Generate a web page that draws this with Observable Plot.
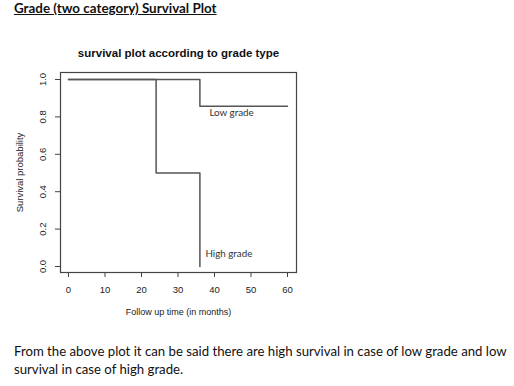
<!DOCTYPE html>
<html>
<head>
<meta charset="utf-8">
<script src="https://cdn.jsdelivr.net/npm/d3@7"></script>
<script src="https://cdn.jsdelivr.net/npm/@observablehq/plot@0.6"></script>
<style>
  html, body { margin: 0; padding: 0; background: #fff; }
  body { width: 514px; height: 386px; position: relative; overflow: hidden; }
  .doc { position: absolute; font-family: Lato, "Open Sans", sans-serif; color: #111; white-space: nowrap; }
  #title { left: 14px; top: 0px; font-weight: bold; font-size: 13.4px; text-decoration: underline; }
  #para { left: 14px; top: 342px; font-size: 13.2px; line-height: 18px; }
  #chart { position: absolute; left: 0; top: 40px; }
</style>
</head>
<body>
<div id="title" class="doc">Grade (two category) Survival Plot</div>
<div id="chart"></div>
<div id="para" class="doc">From the above plot it can be said there are high survival in case of low grade and low<br>survival in case of high grade.</div>
<script>
const lowTime = [0, 36, 60];
const lowSurv = [1, 0.857, 0.857];
const highTime = [0, 24, 36];
const highSurv = [1, 0.5, 0];
const xTicks = [0, 10, 20, 30, 40, 50, 60];
const yTicks = [0, 0.2, 0.4, 0.6, 0.8, 1.0];
const curveLabels = ["Low grade", "High grade"];
const curveLabelX = [38.6, 37.5];
const curveLabelY = [0.82, 0.065];

const low = lowTime.map((t, i) => ({t, s: lowSurv[i]}));
const high = highTime.map((t, i) => ({t, s: highSurv[i]}));
const labels = curveLabels.map((text, i) => ({text, x: curveLabelX[i], y: curveLabelY[i]}));

const rFont = "Liberation Sans, Arial, sans-serif";
const ink = "#222";

const svg = Plot.plot({
  width: 310,
  height: 280,
  marginLeft: 60,
  marginRight: 14,
  marginTop: 32,
  marginBottom: 48,
  style: { fontFamily: rFont, fontSize: "9.5px", color: ink, background: "transparent", overflow: "visible" },
  x: { domain: [0, 60], insetLeft: 8, insetRight: 9 },
  y: { domain: [0, 1], insetTop: 7, insetBottom: 6 },
  marks: [
    Plot.frame({ stroke: "#444", strokeWidth: 1.2 }),
    Plot.axisX({ ticks: xTicks, tickSize: 5, tickPadding: 9, tickFormat: d => String(d), label: null, stroke: "#444", fill: ink }),
    Plot.axisY({ ticks: yTicks, tickSize: 5, tickFormat: () => "", label: null, stroke: "#444" }),
    Plot.text(yTicks, { y: d => d, frameAnchor: "left", dx: -18, rotate: -90, textAnchor: "middle", text: d => d.toFixed(1), fill: ink, fontSize: 9.5 }),
    Plot.line(low, { x: "t", y: "s", curve: "step-after", stroke: "#555", strokeWidth: 1.5 }),
    Plot.line(high, { x: "t", y: "s", curve: "step-after", stroke: "#555", strokeWidth: 1.5 }),
    Plot.text(labels, { x: "x", y: "y", text: "text", textAnchor: "start", fill: "#333", fontSize: 9.8, fontFamily: "Lato, sans-serif" }),
    Plot.text(["survival plot according to grade type"], { frameAnchor: "top", dy: -24, text: d => d, fontWeight: "bold", fontSize: 11.5, fill: "#111" }),
    Plot.text(["Follow up time (in months)"], { frameAnchor: "bottom", dy: 42, text: d => d, fontSize: 9, fill: ink }),
    Plot.text(["Survival probability"], { frameAnchor: "left", dx: -41, rotate: -90, textAnchor: "middle", text: d => d, fontSize: 9.5, fill: ink })
  ]
});
document.getElementById("chart").appendChild(svg);
</script>
</body>
</html>
